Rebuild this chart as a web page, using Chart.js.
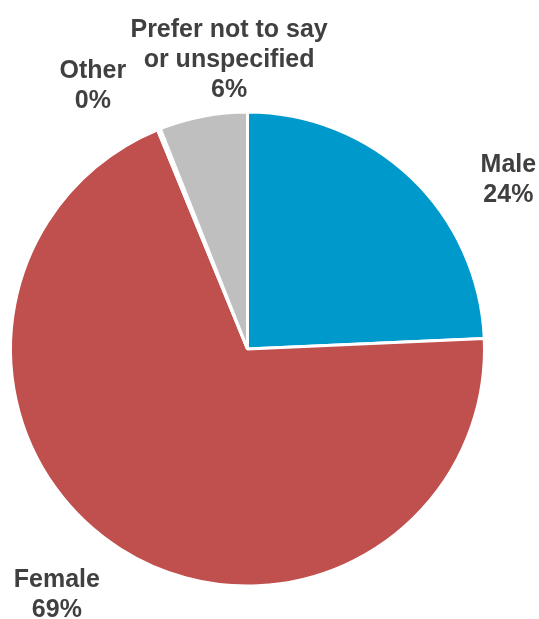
<!DOCTYPE html>
<html>
<head>
<meta charset="utf-8">
<script src="https://cdn.jsdelivr.net/npm/chart.js@4.4.0/dist/chart.umd.min.js"></script>
<style>
  html, body { margin: 0; padding: 0; background: #fff; }
  #wrap { width: 539px; height: 619px; position: relative; }
</style>
</head>
<body>
<div id="wrap"><canvas id="pie"></canvas></div>
<script>
// données
const categories = ['Male', 'Female', 'Other', 'Prefer not to say\nor unspecified'];
const shares = [24.3, 69.5, 0.2, 6.0];
const shownPct = ['24%', '69%', '0%', '6%'];
const sliceColors = ['#0099CC', '#C0504D', '#C0504D', '#BFBFBF'];

// décalage des étiquettes par rapport au bord de la part (px)
const labelShift = [[97, 2], [-63, 46], [-66, -43], [26, -56]];

const outsideLabels = {
  id: 'outsideLabels',
  afterDatasetsDraw(chart) {
    const ctx = chart.ctx;
    const arcs = chart.getDatasetMeta(0).data;
    ctx.save();
    ctx.font = 'bold 25px "Liberation Sans", Arial, sans-serif';
    ctx.fillStyle = '#404040';
    ctx.textAlign = 'center';
    ctx.textBaseline = 'middle';
    arcs.forEach((arc, i) => {
      const mid = (arc.startAngle + arc.endAngle) / 2;
      const x = arc.x + Math.cos(mid) * arc.outerRadius + labelShift[i][0];
      const y = arc.y + Math.sin(mid) * arc.outerRadius + labelShift[i][1];
      const lines = categories[i].split('\n').concat(shownPct[i]);
      const lh = 30;
      const top = y - (lines.length - 1) * lh / 2;
      lines.forEach((t, k) => ctx.fillText(t, x, top + k * lh));
    });
    ctx.restore();
  }
};

new Chart(document.getElementById('pie').getContext('2d'), {
  type: 'pie',
  data: {
    labels: categories,
    datasets: [{
      data: shares,
      backgroundColor: sliceColors,
      borderColor: '#ffffff',
      borderWidth: 3
    }]
  },
  options: {
    responsive: true,
    maintainAspectRatio: false,
    animation: false,
    layout: { padding: { left: 9, right: 53, top: 110, bottom: 31 } },
    plugins: {
      legend: { display: false },
      tooltip: { enabled: false }
    }
  },
  plugins: [outsideLabels]
});
</script>
</body>
</html>
